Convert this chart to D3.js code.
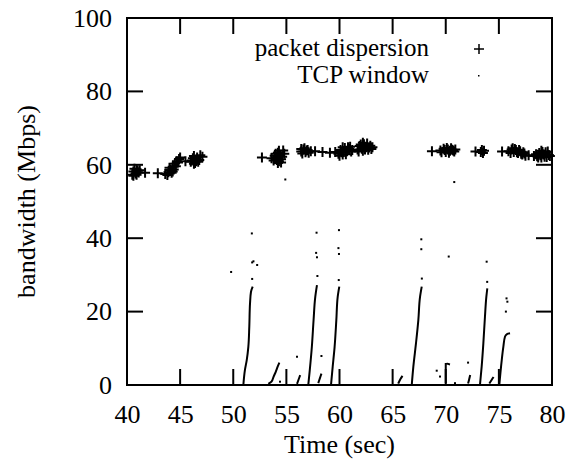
<!DOCTYPE html>
<html lang="en">
<head>
    <meta charset="UTF-8">
    <title>Bandwidth</title>
    <style>
        body { margin: 0; background: #fff; }
        text { font-family: "Liberation Serif", "Times New Roman", serif; fill: #000; }
    </style>
</head>
<body>
<svg height="463" width="571"></svg>

<script src="https://cdn.jsdelivr.net/npm/d3@7"></script>
<script>

    var xTicks = [40, 45, 50, 55, 60, 65, 70, 75, 80];
    var yTicks = [0, 20, 40, 60, 80, 100];

    // packet dispersion samples (sec, Mbps)
    var dispTime = [40.5, 40.6, 40.6, 40.7, 40.8, 40.9, 40.9, 41.0, 41.1, 41.2, 41.7, 42.9,
        43.6, 43.8, 43.9, 44.0, 44.1, 44.2, 44.3, 44.3, 44.4, 44.5, 44.6, 44.7, 44.8, 44.9, 45.0,
        45.5, 46.0, 46.1, 46.2, 46.3, 46.3, 46.4, 46.5, 46.6, 46.7, 46.8, 46.9, 47.1,
        52.7, 53.6, 53.8, 53.9, 54.0, 54.0, 54.1, 54.2, 54.2, 54.3, 54.3, 54.4, 54.5, 54.5, 54.6, 54.7, 54.8,
        56.4, 56.4, 56.5, 56.6, 56.7, 56.8, 56.9, 57.0, 57.1, 57.3, 57.7, 58.4, 59.1, 59.6,
        59.9, 60.0, 60.1, 60.2, 60.3, 60.3, 60.4, 60.5, 60.6, 60.7, 60.8, 60.9, 61.0, 61.1, 61.2,
        61.7, 61.8, 61.9, 62.0, 62.1, 62.2, 62.2, 62.3, 62.4, 62.5, 62.6, 62.7, 62.8, 62.9, 63.0, 63.1,
        68.7, 69.5, 69.6, 69.8, 69.9, 70.0, 70.1, 70.2, 70.3, 70.4, 70.5, 70.6, 70.7, 70.8, 70.9,
        72.8, 73.3, 73.4, 73.5, 73.6,
        75.3, 75.9, 76.1, 76.2, 76.3, 76.4, 76.5, 76.6, 76.7, 76.8, 76.9, 77.0, 77.1, 77.2, 77.3, 77.4, 77.5,
        77.8, 78.3,
        78.5, 78.6, 78.7, 78.8, 78.9, 79.0, 79.0, 79.1, 79.2, 79.3, 79.4, 79.5, 79.6, 79.7, 79.8];
    var dispBw = [57.3, 58.2, 57.0, 58.9, 57.6, 58.8, 57.3, 58.4, 57.9, 58.5, 57.8, 57.7,
        57.5, 57.2, 58.0, 59.2, 58.6, 57.8, 59.5, 58.2, 58.7, 60.3, 59.6, 61.0, 60.6, 61.6, 62.0,
        61.0, 60.8, 61.2, 61.8, 62.4, 60.3, 60.5, 61.0, 62.0, 60.8, 61.3, 62.6, 62.2,
        62.0, 61.8, 61.2, 62.5, 62.0, 63.0, 61.3, 63.3, 60.5, 61.0, 63.8, 62.4, 60.6, 61.5, 62.2, 63.9, 63.0,
        63.6, 64.3, 63.1, 64.2, 64.5, 63.4, 63.9, 64.0, 63.3, 63.7, 63.7, 63.5, 63.3, 63.5,
        63.0, 62.5, 64.0, 63.4, 62.8, 64.8, 63.5, 64.6, 62.9, 63.7, 64.8, 64.3, 64.9, 63.6, 64.0,
        64.2, 63.6, 65.1, 65.5, 64.4, 63.8, 66.0, 65.6, 64.2, 64.8, 65.8, 64.1, 64.7, 65.2, 64.3, 64.8,
        63.7, 63.9, 63.4, 64.4, 64.0, 63.5, 64.6, 64.2, 63.3, 63.8, 64.5, 64.1, 63.9, 63.6, 64.2,
        63.6, 63.5, 64.0, 63.2, 63.8,
        63.6, 63.7, 63.2, 64.2, 64.5, 63.5, 64.3, 64.0, 63.4, 63.2, 64.0, 63.7, 63.0, 62.8, 63.4, 63.1, 62.5,
        62.6, 62.4,
        62.9, 62.3, 62.0, 63.2, 62.6, 62.0, 63.8, 63.5, 62.8, 62.2, 63.4, 62.1, 63.6, 62.7, 62.4];

    // TCP window samples, one run per burst (sec, Mbps)
    var tcpBursts = [
        [[50.95, 0], [51.1, 4.1], [51.27, 6.8], [51.42, 10.4], [51.51, 15.9], [51.58, 22.3], [51.67, 25.4], [51.83, 26.8]],
        [[57.06, 0], [57.2, 4], [57.4, 10.5], [57.56, 17.7], [57.72, 24], [57.88, 27.2]],
        [[59.2, 0], [59.36, 5], [59.54, 10.4], [59.7, 17.6], [59.83, 24], [59.98, 26.8]],
        [[66.8, 0], [66.95, 5], [67.2, 11.4], [67.42, 17.7], [67.58, 24], [67.74, 26.8]],
        [[73.22, 0], [73.38, 5], [73.54, 11.4], [73.69, 18.6], [73.82, 24], [73.91, 26.3]],
        [[75.04, 0], [75.27, 6.8], [75.42, 10.4], [75.58, 13.2], [75.8, 13.9], [76.05, 14.1]],
        [[53.3, 0.3], [53.6, 0.9], [53.8, 2.3], [54.0, 3.6], [54.18, 5], [54.34, 6.1]],
        [[56.0, 0.3], [56.15, 1.5], [56.3, 2.7]],
        [[58.0, 0.5], [58.15, 1.8], [58.3, 3.1]],
        [[65.53, 0.4], [65.75, 1.7], [65.93, 2.5]],
        [[70.0, 0.5], [70.0, 3], [70.0, 6], [70.4, 5.6]],
        [[72.1, 0.4], [72.2, 1.5], [72.3, 2.7]],
        [[74.1, 0.4], [74.3, 1.3], [74.5, 2.2]]
    ];
    var tcpDots = [[49.8, 30.8], [51.75, 41.3], [51.78, 33.4], [51.9, 33.7], [52.25, 32.7], [51.78, 28.9],
        [54.9, 56.0], [54.4, 0.9], [56.0, 7.7], [57.84, 41.5], [57.8, 36], [57.88, 34.8], [57.92, 29.7],
        [58.3, 7.9], [59.95, 42.2], [59.9, 37.3], [59.95, 35.7], [59.93, 28.6],
        [67.7, 39.7], [67.7, 37], [67.75, 29], [69.15, 3.9], [69.46, 2.3], [70.28, 35], [70.87, 0.5],
        [70.8, 55.3], [72.1, 6.1], [73.85, 33.6], [73.9, 28.1],
        [75.72, 23.6], [75.8, 22.7], [75.66, 20]];

    var legendNames = ["packet dispersion", "TCP window"];

    function translate(x, y) { return "translate(" + x + "," + y + ")"; }

    var svg = d3.select("svg"),
        margins = {top: 18, right: 19, bottom: 78, left: 127};

    var width = +svg.attr("width") - margins.left - margins.right;
    var height = +svg.attr("height") - margins.top - margins.bottom;

    var g = svg.append("g").attr("transform", translate(margins.left, margins.top));

    var x = d3.scaleLinear().domain([40, 80]).range([0, width]);
    var y = d3.scaleLinear().domain([0, 100]).range([height, 0]);

    var tickLen = 16;
    var serif = '"Liberation Serif", "Times New Roman", serif';

    // tcp window bursts
    var burstLine = d3.line()
        .x(function(d) { return x(d[0]); })
        .y(function(d) { return y(d[1]); })
        .curve(d3.curveMonotoneY);

    g.selectAll(".burst")
        .data(tcpBursts)
        .enter().append("path")
        .attr("d", burstLine)
        .attr("fill", "none")
        .attr("stroke", "#000")
        .attr("stroke-width", 2);

    g.selectAll(".dot")
        .data(tcpDots)
        .enter().append("rect")
        .attr("x", function(d) { return x(d[0]) - 1; })
        .attr("y", function(d) { return y(d[1]) - 1; })
        .attr("width", 2)
        .attr("height", 2)
        .attr("fill", "#000");

    // packet dispersion pluses
    var plus = "M-5,0H5M0,-5V5";
    g.selectAll(".plus")
        .data(dispTime)
        .enter().append("path")
        .attr("transform", function(d, i) { return translate(x(d), y(dispBw[i])); })
        .attr("d", plus)
        .attr("stroke", "#000")
        .attr("stroke-width", 2);

    // axes, gnuplot style: ticks pointing in on all four sides
    var bottomAxis = d3.axisBottom(x).tickValues(xTicks).tickSize(0).tickPadding(20);
    g.append("g").attr("transform", translate(0, height)).call(bottomAxis)
        .attr("font-family", serif)
        .call(function(a) { a.select(".domain").remove(); })
        .selectAll("text").style("font-size", "26px").style("font-family", serif);

    var leftAxis = d3.axisLeft(y).tickValues(yTicks).tickSize(0).tickPadding(15);
    g.append("g").call(leftAxis)
        .attr("font-family", serif)
        .call(function(a) { a.select(".domain").remove(); })
        .selectAll("text").style("font-size", "26px").style("font-family", serif);

    var inner = xTicks.slice(1, -1);
    var innerY = yTicks.slice(1, -1);
    var ticks = g.append("g").attr("stroke", "#000").attr("stroke-width", 2);
    inner.forEach(function(t) {
        ticks.append("line").attr("x1", x(t)).attr("x2", x(t)).attr("y1", height).attr("y2", height - tickLen);
        ticks.append("line").attr("x1", x(t)).attr("x2", x(t)).attr("y1", 0).attr("y2", tickLen);
    });
    innerY.forEach(function(v) {
        ticks.append("line").attr("x1", 0).attr("x2", tickLen).attr("y1", y(v)).attr("y2", y(v));
        ticks.append("line").attr("x1", width).attr("x2", width - tickLen).attr("y1", y(v)).attr("y2", y(v));
    });

    g.append("rect")
        .attr("width", width)
        .attr("height", height)
        .attr("fill", "none")
        .attr("stroke", "#000")
        .attr("stroke-width", 2);

    // legend
    var legend = g.append("g");
    legend.selectAll("text")
        .data(legendNames)
        .enter().append("text")
        .attr("x", 302)
        .attr("y", function(d, i) { return 38 + i * 27; })
        .attr("text-anchor", "end")
        .style("font-size", "25px")
        .style("font-family", serif)
        .text(function(d) { return d; });
    legend.append("path")
        .attr("transform", translate(352, 31))
        .attr("d", plus)
        .attr("stroke", "#000")
        .attr("stroke-width", 1.5);
    legend.append("rect")
        .attr("x", 351).attr("y", 57).attr("width", 1.5).attr("height", 1.5)
        .attr("fill", "#000");

    svg.append("text")
        .attr("x", margins.left + width / 2)
        .attr("y", 453)
        .attr("text-anchor", "middle")
        .style("font-size", "26px")
        .style("font-family", serif)
        .text("Time (sec)");

    svg.append("text")
        .attr("transform", "translate(35," + (margins.top + height / 2) + ") rotate(-90)")
        .attr("text-anchor", "middle")
        .style("font-size", "26px")
        .style("font-family", serif)
        .text("bandwidth (Mbps)");
</script>
</body>
</html>
